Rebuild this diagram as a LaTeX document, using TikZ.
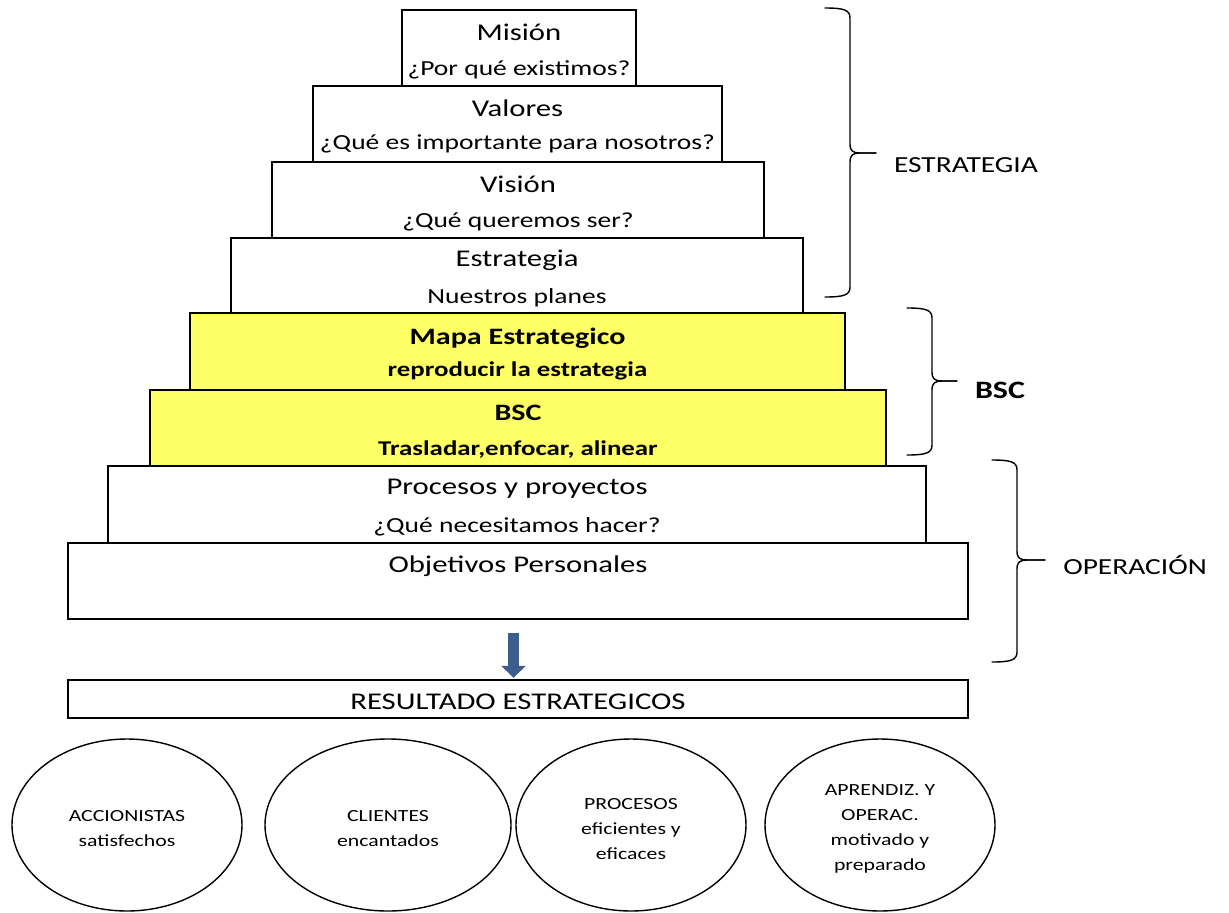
\documentclass[tikz,border=0pt]{standalone}
\usepackage{fontspec}
\setmainfont{Carlito}[FakeStretch=1.28]
\usetikzlibrary{calc,shapes.geometric,arrows.meta}

\definecolor{tieryellow}{RGB}{255,255,102}
\definecolor{arrowblue}{RGB}{59,94,140}

% curly brace: #1 free-end x, #2 spine x, #3 tip x, #4 top y, #5 tip y, #6 bottom y
\newcommand\curlybr[6]{%
  \draw[bracestyle] (#1,#4) .. controls (#2-6,#4) and (#2,#4+2) .. (#2,#4+10)
     -- (#2,#5-9) .. controls (#2,#5-2) and (#2+3,#5) .. (#2+10,#5) -- (#3,#5);
  \draw[bracestyle] (#1,#6) .. controls (#2-6,#6) and (#2,#6-2) .. (#2,#6-10)
     -- (#2,#5+9) .. controls (#2,#5+2) and (#2+3,#5) .. (#2+10,#5) -- (#3,#5);
}

\begin{document}
\begin{tikzpicture}[x=1pt,y=-1pt,
  tier/.style={draw, line width=2.4pt, inner sep=0pt, fill=white},
  hot/.style={tier, fill=tieryellow},
  title/.style={inner sep=0pt, font=\fontsize{24}{27}\selectfont},
  sub/.style={inner sep=0pt, font=\fontsize{21.5}{24}\selectfont},
  btitle/.style={inner sep=0pt, font=\fontsize{23.5}{26}\selectfont\bfseries},
  bsub/.style={inner sep=0pt, font=\fontsize{21}{24}\selectfont\bfseries},
  oval/.style={draw, line width=1.4pt, ellipse, inner sep=0pt, minimum height=172},
  ovaltext/.style={inner sep=0pt, align=center, font=\fontsize{17}{25}\selectfont},
  bracestyle/.style={line width=1.4pt, line cap=round},
  side/.style={inner sep=0pt, font=\fontsize{23}{26}\selectfont}]

\useasboundingbox (0,0) rectangle (1229,913);

% pyramid of tiers
\node[tier, minimum width=234, minimum height=76] (mision)     at (519,48)  {};
\node[tier, minimum width=409, minimum height=76] (valores)    at (517.5,124) {};
\node[tier, minimum width=492, minimum height=76] (vision)     at (518,200) {};
\node[tier, minimum width=572, minimum height=75] (estrategia) at (517,275.5) {};
\node[hot,  minimum width=655, minimum height=77] (mapa)       at (517.5,351.5) {};
\node[hot,  minimum width=736, minimum height=76] (bsc)        at (518,428) {};
\node[tier, minimum width=818, minimum height=77] (procesos)   at (517,504.5) {};
\node[tier, minimum width=900, minimum height=76] (objetivos)  at (518,581) {};

\node[title] at ($(mision.north)+(0,24)$) {Misión};
\node[sub]   at ($(mision.north)+(0,61)$) {¿Por qué existimos?};
\node[title] at ($(valores.north)+(0,23)$) {Valores};
\node[sub]   at ($(valores.north)+(0,59)$) {¿Qué es importante para nosotros?};
\node[title] at ($(vision.north)+(0,24)$) {Visión};
\node[sub]   at ($(vision.north)+(0,61)$) {¿Qué queremos ser?};
\node[title] at ($(estrategia.north)+(0,24)$) {Estrategia};
\node[sub]   at ($(estrategia.north)+(0,61)$) {Nuestros planes};
\node[btitle] at ($(mapa.north)+(0,26)$) {Mapa Estrategico};
\node[bsub]   at ($(mapa.north)+(0,59)$) {reproducir la estrategia};
\node[btitle] at ($(bsc.north)+(0,24)$) {BSC};
\node[bsub]   at ($(bsc.north)+(0,61)$) {Trasladar,enfocar, alinear};
\node[title] at ($(procesos.north)+(0,24)$) {Procesos y proyectos};
\node[sub]   at ($(procesos.north)+(0,62)$) {¿Qué necesitamos hacer?};
\node[title] at ($(objetivos.north)+(0,24)$) {Objetivos Personales};

% results bar
\node[tier, minimum width=900, minimum height=38] (resultado) at (518,699) {};
\node[title] at ($(resultado.center)+(0,3)$) {RESULTADO ESTRATEGICOS};

\draw[arrowblue, line width=11pt, -{Triangle[width=24pt,length=12pt]}]
  ($(objetivos.south)+(-4.5,13)$) -- ($(resultado.north)+(-4.5,-1)$);

% strategic outcomes
\node[oval, minimum width=230] (acc)  at (127,825) {};
\node[oval, minimum width=246] (cli)  at (388,825) {};
\node[oval, minimum width=230] (proc) at (631,825) {};
\node[oval, minimum width=230] (apr)  at (880,825) {};
\node[ovaltext] at ($(acc.center)+(0,4)$)  {ACCIONISTAS\\satisfechos};
\node[ovaltext] at ($(cli.center)+(0,4)$)  {CLIENTES\\encantados};
\node[ovaltext] at ($(proc.center)+(0,4)$) {PROCESOS\\eficientes y\\eficaces};
\node[ovaltext] at ($(apr.center)+(0,4)$)  {APRENDIZ. Y\\OPERAC.\\motivado y\\preparado};

% side braces and their labels
\curlybr{825}{850}{876}{8}{153}{297}
\node[side] (lblest) at (966,165) {ESTRATEGIA};
\curlybr{907}{932}{957}{308}{381}{455}
\node[side, font=\fontsize{25}{28}\selectfont\bfseries] (lblbsc) at (1000,390) {BSC};
\curlybr{992}{1017}{1045}{460}{560}{662}
\node[side] (lblop) at (1135,565) {OPERACIÓN};

\end{tikzpicture}
\end{document}
